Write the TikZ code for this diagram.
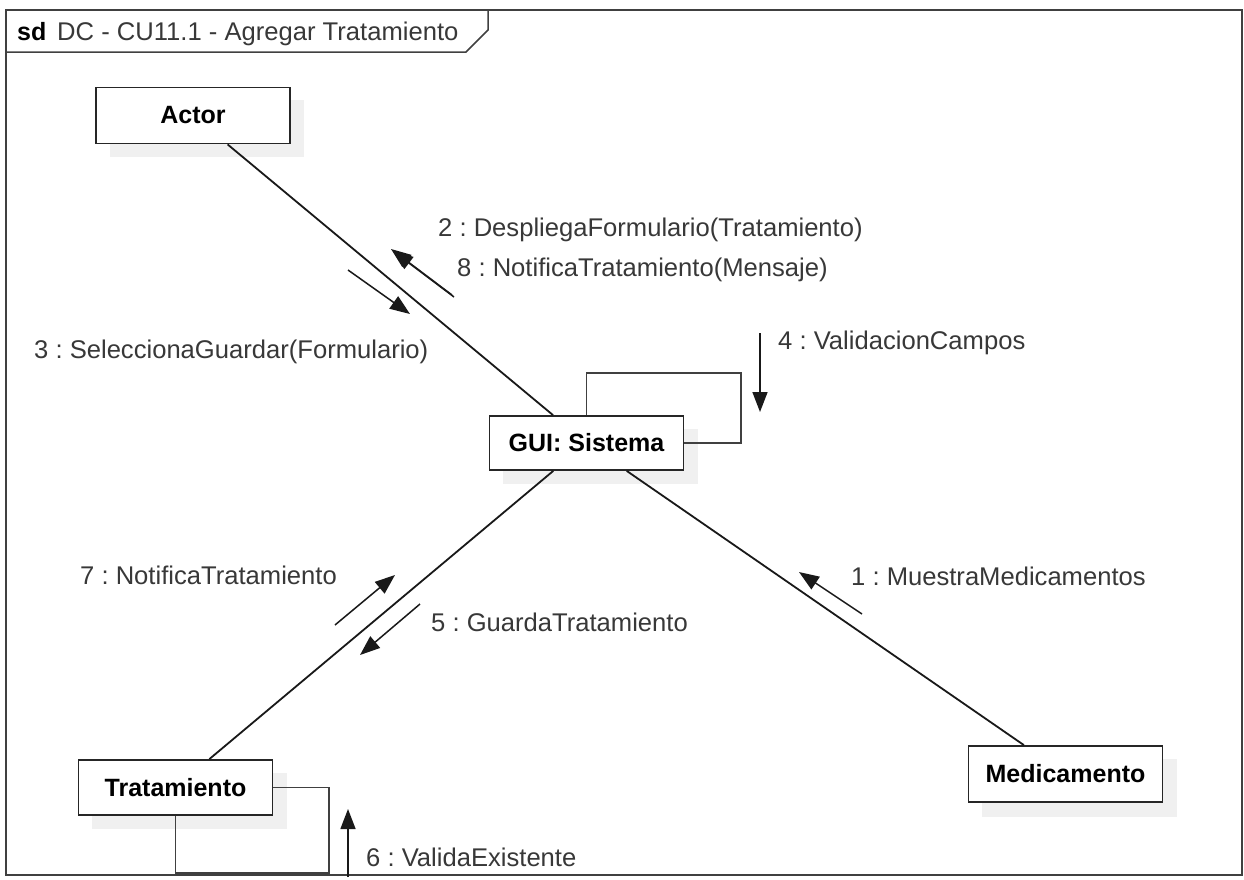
\documentclass[tikz,border=0pt]{standalone}
\usepackage{fontspec}
\setmainfont{Liberation Sans}
\usetikzlibrary{arrows.meta}
\begin{document}
\frenchspacing
\begin{tikzpicture}[x=1pt,y=-1pt,
  obj/.style={draw=black!85,line width=1.8pt,fill=white,minimum width=194pt,minimum height=56pt,inner sep=0pt,font=\fontsize{25}{28}\selectfont\bfseries},
  shadowbox/.style={fill=black!6,draw=none},
  link/.style={line width=1.8pt,draw=black!90},
  loop/.style={line width=1.5pt,draw=black!75},
  msg/.style={line width=1.5pt,draw=black!90,-{Triangle[length=20pt,width=15pt]}},
  lbl/.style={anchor=base west,inner sep=0pt,text=black!78,font=\fontsize{25.6}{28}\selectfont}]
\useasboundingbox (0,0) rectangle (1244,879);
\fill[white] (0,0) rectangle (1244,879);
% frame
\draw[line width=1.8pt,draw=black!75] (6,10) rectangle (1242,875);
\draw[line width=1.5pt,draw=black!75] (6,52) -- (466,52) -- (488,30) -- (488,10);
\node[lbl,text=black,font=\fontsize{25}{28}\selectfont\bfseries] (sd) at (17,40) {sd};
\node[lbl] (title) at (57,40) {DC - CU11.1 - Agregar Tratamiento};
% shadows
\fill[shadowbox] (110,100) rectangle (304,157);
\fill[shadowbox] (503,429) rectangle (698,484);
\fill[shadowbox] (92,773) rectangle (287,829);
\fill[shadowbox] (982,759) rectangle (1177,817);
% objects
\node[obj] (actor) at (193,115.5) {Actor};
\node[obj,minimum height=54pt] (gui) at (586.5,443) {GUI: Sistema};
\node[obj,minimum height=55pt] (trat) at (175.5,787.5) {Tratamiento};
\node[obj] (med) at (1065.5,774) {Medicamento};
% links
\draw[link] (actor) -- (gui);
\draw[link] (gui) -- (trat);
\draw[link] (gui) -- (med);
% self loops
\coordinate (gl) at (741,373);
\draw[loop] (gui.north) |- (gl) |- (gui.east);
\coordinate (tl) at (329,873);
\draw[loop] (trat.east) -| (tl) -| (trat.south);
% message arrows
\coordinate (m2s) at (452,295); \coordinate (m2e) at (391,249);
\draw[msg] (m2s) -- (m2e);
\draw[msg] ([xshift=2pt,yshift=-2pt]m2s) -- ([xshift=2pt,yshift=-2pt]m2e);
\coordinate (m3s) at (348,270); \coordinate (m3e) at (410,314);
\draw[msg] (m3s) -- (m3e);
\coordinate (m4s) at (760,333); \coordinate (m4e) at (760,412);
\draw[msg] (m4s) -- (m4e);
\coordinate (m7s) at (335,625); \coordinate (m7e) at (395,575);
\draw[msg] (m7s) -- (m7e);
\coordinate (m5s) at (420,604); \coordinate (m5e) at (360,655);
\draw[msg] (m5s) -- (m5e);
\coordinate (m1s) at (862,614); \coordinate (m1e) at (799,572);
\draw[msg] (m1s) -- (m1e);
\coordinate (m6s) at (348,877); \coordinate (m6e) at (348,809);
\draw[msg] (m6s) -- (m6e);
% labels
\node[lbl] (l2) at (438,236) {2 : DespliegaFormulario(Tratamiento)};
\node[lbl] (l8) at (457,276) {8 : NotificaTratamiento(Mensaje)};
\node[lbl] (l3) at (34,358) {3 : SeleccionaGuardar(Formulario)};
\node[lbl] (l4) at (778,349) {4 : ValidacionCampos};
\node[lbl] (l7) at (80,584) {7 : NotificaTratamiento};
\node[lbl] (l5) at (431,631) {5 : GuardaTratamiento};
\node[lbl] (l1) at (851,585) {1 : MuestraMedicamentos};
\node[lbl] (l6) at (366,866) {6 : ValidaExistente};
\end{tikzpicture}
\end{document}
